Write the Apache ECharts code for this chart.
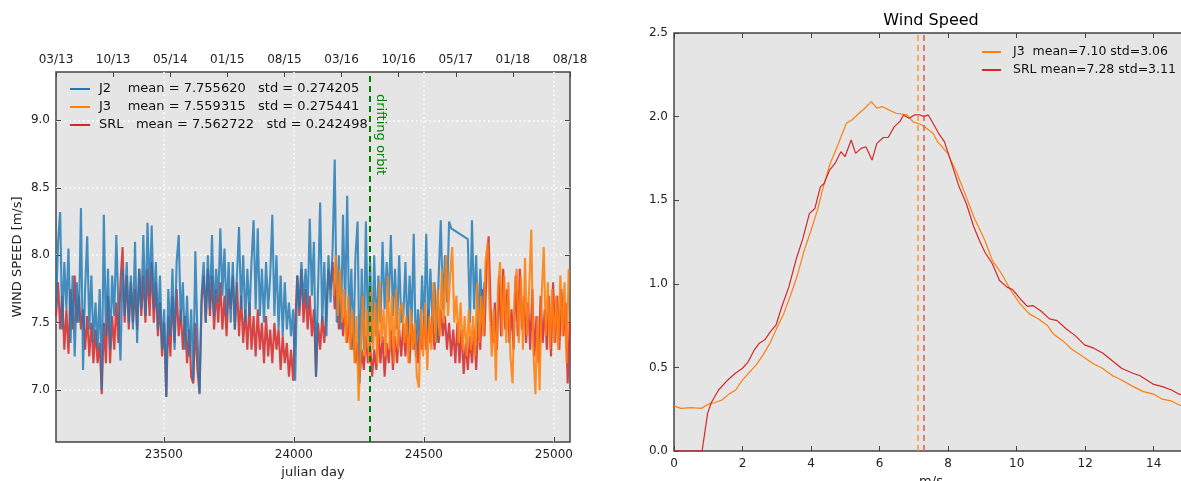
<!DOCTYPE html>
<html>
<head>
<meta charset="utf-8">
<title>Wind Speed</title>
<script src="https://cdn.jsdelivr.net/npm/echarts@6/dist/echarts.min.js"></script>
<style>
  html, body { margin: 0; padding: 0; background: #fff; }
  #main { width: 1181px; height: 481px; }
</style>
</head>
<body>
<div id="main"></div>
<script>
// ---- left panel: daily mean wind speed per mission ----
const dayStep = 8;
const j2Start = 23085;
const j3Start = 24153;
const srlStart = 23085;
const driftDay = 24290;

const j2Values = [
  7.6, 8.1, 8.32, 7.45, 7.95, 7.6, 8.05, 7.35, 7.85, 7.25,
  7.8, 7.5, 8.35, 7.15, 7.75, 8.14, 7.45, 7.85, 7.35, 7.65,
  7.3, 7.75, 7.0, 8.3, 7.4, 7.9, 7.3, 7.85, 7.55, 8.15,
  7.6, 7.22, 7.9, 7.55, 7.95, 7.5, 7.85, 7.45, 8.1, 7.35,
  7.9, 7.6, 8.15, 7.55, 8.24, 7.7, 8.22, 7.6, 7.95, 7.45,
  7.85, 7.3, 7.6, 6.95, 7.75, 7.4, 7.9, 7.3, 7.95, 8.15,
  7.5, 7.8, 7.3, 7.7, 7.25, 7.6, 7.07, 8.03, 7.4, 6.97,
  7.7, 7.95, 7.5, 8.0, 7.6, 8.15, 7.55, 7.9, 7.65, 8.2,
  7.7, 8.05, 7.55, 7.95, 7.5, 7.95, 7.45, 7.85, 8.21, 7.6,
  8.0, 7.5, 7.9, 7.55, 7.95, 8.26, 7.6, 8.2, 7.55, 7.9,
  7.5, 7.95, 7.6, 7.85, 8.3, 7.55, 8.0, 7.45, 7.85, 7.4,
  7.8, 7.45, 7.65, 7.4, 7.6, 7.07, 7.85, 7.6, 7.95, 7.65,
  7.9, 7.6, 8.27, 7.7, 8.1, 7.1, 7.75, 8.39, 7.5, 7.95,
  7.4, 8.0, 7.65, 8.05, 8.71, 7.5, 8.0, 7.45, 8.3, 7.6,
  8.44, 7.45, 7.9, 7.3, 8.0, 8.25, 7.05, 7.9, 7.3, 8.25,
  7.4, 7.95, 7.35, 8.0, 7.4, 7.85, 7.5, 8.1, 7.6, 7.95,
  7.65, 8.15, 7.55, 7.9, 7.45, 8.0, 7.5, 7.55, 7.95, 7.4,
  7.85, 7.5, 8.16, 7.25, 7.6, 7.35, 7.85, 7.45, 8.16, 7.45,
  7.9, 7.5, 7.8, 7.35, 7.85, 8.26, 7.6, 8.0, 7.65, 8.25,
  8.2, null, null, null, null, null, null, null, 8.12, 7.5,
  8.26, 7.6, 8.0, 7.45, 7.9, 7.55, 7.8
];

const j3Values = [
  7.7, 8.0, 7.55, 7.9, 7.5, 7.75, 7.35, 7.7, 7.3, 7.6,
  7.2, 7.55, 6.92, 7.3, 7.7, 7.25, 7.6, 7.2, 7.75, 7.3,
  7.65, 7.2, 7.8, 7.35, 7.6, 7.25, 7.85, 7.3, 7.7, 7.2,
  7.75, 7.3, 7.6, 7.65, 7.35, 7.55, 7.2, 7.6, 7.3, 7.5,
  7.1, 7.02, 7.6, 7.25, 7.65, 7.15, 7.55, 7.3, 7.8, 7.35,
  7.75, 7.4, 7.9, 7.5, 8.0, 7.55, 7.85, 8.06, 7.5, 7.7,
  7.35, 7.65, 7.3, 7.55, 7.25, 7.6, 7.3, 7.55, 7.25, 7.8,
  7.35, 7.7, 7.4, 7.95, 8.09, 7.6, 7.25, 7.6, 7.07, 7.75,
  7.95, 7.4, 7.85, 7.35, 7.8, 7.25, 7.05, 7.7, 7.9, 7.35,
  7.85, 7.3, 7.98, 7.4, 7.75, 8.19, 7.3, 6.97, 7.55, 7.0,
  7.7, 8.06, 7.4, 7.8, 7.3, 7.75, 7.35, 7.7, 7.3, 7.85,
  7.4, 7.8, 7.2, 7.9
];

const srlValues = [
  7.55, 7.8, 7.45, 7.7, 7.3, 7.6, 7.27, 7.75, 7.45, 7.85,
  7.5, 7.7, 7.45, 7.6, 7.3, 7.55, 7.25, 7.5, 7.2, 7.45,
  7.2, 7.35, 6.97, 7.5, 7.2, 7.7, 7.2, 7.55, 7.3, 7.65,
  7.35, 7.8, 8.06, 7.5, 7.85, 7.45, 7.8, 7.5, 7.75, 7.45,
  7.9, 7.55, 7.85, 7.5, 7.9, 7.55, 7.95, 7.5, 7.8, 7.4,
  7.65, 7.25, 7.5, 6.95, 7.55, 7.25, 7.7, 7.35, 7.75, 7.4,
  7.6, 7.3, 7.55, 7.2, 7.45, 7.1, 7.05, 7.5, 7.15, 6.98,
  7.65, 7.85, 7.5, 7.9, 7.55, 7.85, 7.45, 7.75, 7.5, 7.8,
  7.45, 7.7, 7.4, 7.75, 7.6, 7.85, 7.45, 7.8, 7.4, 7.7,
  7.35, 7.6, 7.3, 7.65, 7.3, 7.55, 7.25, 7.6, 7.3, 7.5,
  7.2, 7.55, 7.25, 7.45, 7.2, 7.5, 7.3, 7.45, 7.15, 7.4,
  7.2, 7.35, 7.1, 7.3, 7.07, 7.5, 7.85, 7.55, 7.9, 7.5,
  7.75, 7.45, 7.7, 7.4, 7.6, 7.1, 7.5, 7.3, 7.55, 7.35,
  7.6, 7.9, 7.75, 7.95, 7.6, 7.8, 7.45, 7.7, 7.4, 7.6,
  7.35, 7.55, 7.3, 7.45, 7.2, 7.35, 7.1, 7.3, 7.15, 7.4,
  7.2, 7.35, 7.1, 7.3, 7.15, 7.45, 7.2, 7.4, 7.1, 7.35,
  7.2, 7.45, 7.15, 7.4, 7.2, 7.45, 7.25, 7.5, 7.25, 7.55,
  7.2, 7.5, 7.3, 7.45, 7.2, 7.5, 7.3, 7.55, 7.3, 7.6,
  7.35, 7.55, 7.3, 7.5, 7.35, 7.6, 7.4, 7.55, 7.3, 7.5,
  7.25, 7.45, 7.2, 7.5, 7.2, 7.45, 7.12, 7.35, 7.15, 7.4,
  7.2, 7.45, 7.15, 7.5, 7.3, 7.75, 7.4, 7.9, 8.14, 7.6,
  7.35, 7.65, 7.3, 7.85, 7.4, 7.9, 7.45, 7.75, 7.35, 7.6,
  7.3, 7.85, 7.4, 7.9, 7.45, 7.7, 7.35, 7.65, 7.3, 7.75,
  7.25, 7.55, 7.2, 7.7, 7.35, 7.6, 7.3, 7.7, 7.25, 7.8,
  7.35, 7.7, 7.3, 7.75, 7.4, 7.65, 7.05, 7.5
];

const leftXTicks = [23500, 24000, 24500, 25000];
const leftYTicks = [7.0, 7.5, 8.0, 8.5, 9.0];
const dateLabels = ['03/13', '10/13', '05/14', '01/15', '08/15', '03/16', '10/16', '05/17', '01/18', '08/18'];

const j2Name = 'J2    mean = 7.755620   std = 0.274205';
const j3Name = 'J3    mean = 7.559315   std = 0.275441';
const srlName = 'SRL   mean = 7.562722   std = 0.242498';

// ---- right panel: wind speed distribution ----
const j3Speed = [0, 0.2, 0.5, 0.8, 1.0, 1.2, 1.4, 1.6, 1.8, 2.0, 2.2, 2.4, 2.6, 2.8, 3.0, 3.2, 3.4, 3.6, 3.8, 4.0,
  4.2, 4.33, 4.54, 4.76, 5.03, 5.19, 5.4, 5.57, 5.76, 5.92, 6.07, 6.27, 6.48, 6.8, 6.97, 7.24, 7.56, 7.69, 7.99, 8.26,
  8.53, 8.75, 9.07, 9.29, 9.56, 9.83, 10.1, 10.37, 10.64, 10.9, 11.07, 11.34, 11.6, 11.82, 12.0, 12.25, 12.5, 12.8, 13.06, 13.4,
  13.7, 14.0, 14.25, 14.5, 14.74, 15.0];
const j3Density = [0.27, 0.255, 0.26, 0.255, 0.28, 0.29, 0.305, 0.34, 0.365, 0.425, 0.47, 0.515, 0.575, 0.645, 0.735, 0.82, 0.93, 1.05, 1.2, 1.32,
  1.45, 1.56, 1.71, 1.82, 1.96, 1.98, 2.02, 2.05, 2.09, 2.05, 2.06, 2.04, 2.02, 2.01, 1.97, 1.95, 1.9, 1.85, 1.78, 1.66,
  1.52, 1.40, 1.26, 1.14, 1.06, 0.96, 0.88, 0.82, 0.79, 0.75, 0.70, 0.66, 0.61, 0.58, 0.555, 0.52, 0.495, 0.45, 0.425, 0.385,
  0.355, 0.34, 0.31, 0.30, 0.275, 0.265];
const srlSpeed = [0, 0.82, 0.98, 1.09, 1.3, 1.57, 1.79, 2.0, 2.17, 2.33, 2.49, 2.65, 2.82, 2.98, 3.14, 3.35, 3.57, 3.76, 3.95, 4.11,
  4.27, 4.38, 4.54, 4.7, 4.87, 4.99, 5.17, 5.3, 5.46, 5.6, 5.78, 5.92, 6.11, 6.25, 6.43, 6.59, 6.7, 6.86, 7.02, 7.18,
  7.29, 7.42, 7.56, 7.72, 7.89, 8.1, 8.32, 8.53, 8.75, 8.91, 9.07, 9.29, 9.5, 9.72, 9.88, 10.15, 10.31, 10.47, 10.69, 10.96,
  11.18, 11.45, 11.71, 11.98, 12.25, 12.52, 12.79, 13.06, 13.39, 13.6, 13.98, 14.25, 14.52, 14.74, 15.0];
const srlDensity = [0, 0, 0.225, 0.29, 0.365, 0.425, 0.465, 0.495, 0.535, 0.6, 0.645, 0.665, 0.715, 0.755, 0.86, 0.98, 1.15, 1.27, 1.42, 1.45,
  1.58, 1.6, 1.68, 1.72, 1.79, 1.76, 1.86, 1.78, 1.81, 1.82, 1.74, 1.84, 1.875, 1.875, 1.94, 1.97, 2.01, 1.99, 2.01, 2.01,
  2.0, 2.01, 1.96, 1.9, 1.85, 1.72, 1.58, 1.48, 1.34, 1.26, 1.19, 1.12, 1.02, 0.98, 0.965, 0.90, 0.865, 0.87, 0.84, 0.79,
  0.78, 0.73, 0.69, 0.635, 0.615, 0.585, 0.54, 0.495, 0.465, 0.45, 0.40, 0.385, 0.365, 0.34, 0.33];
const j3Mean = 7.10;
const srlMean = 7.28;
const rightXTicks = [0, 2, 4, 6, 8, 10, 12, 14];

const j3DistName = 'J3  mean=7.10 std=3.06';
const srlDistName = 'SRL mean=7.28 std=3.11';

const blue = '#1f77b4';
const orange = '#ff7f0e';
const red = '#d62728';
const frame = '#444444';
const labelColor = '#222222';
const font = 'DejaVu Sans';

function daySeries(start, values) {
  return values.map((v, i) => [start + i * dayStep, v]);
}
function pairs(xs, ys) {
  return xs.map((x, i) => [x, ys[i]]);
}

const tickStyle = { inside: true, length: 5, lineStyle: { color: frame, width: 1 } };
const labelStyle = { color: labelColor, fontSize: 12, fontFamily: font };
const gridLine = { show: true, lineStyle: { color: '#ffffff', width: 1.5, type: [1.5, 3] } };
const plain = v => String(v);

const chart = echarts.init(document.getElementById('main'));

chart.setOption({
  animation: false,
  backgroundColor: '#ffffff',
  textStyle: { fontFamily: font },
  grid: [
    { left: 56, top: 72, width: 514, height: 370, show: true, backgroundColor: '#e5e5e5',
      borderColor: frame, borderWidth: 1.5, outerBoundsMode: 'none' },
    { left: 674, top: 33, width: 514, height: 418, show: true, backgroundColor: '#e5e5e5',
      borderColor: frame, borderWidth: 1.5, outerBoundsMode: 'none' }
  ],
  legend: [
    { orient: 'vertical', left: 65, top: 77, itemWidth: 20, itemHeight: 2, itemGap: 4, icon: 'rect',
      data: [j2Name, j3Name, srlName],
      textStyle: { fontSize: 13, color: '#111', fontFamily: font, lineHeight: 14, padding: [0, 0, 0, 4] } },
    { orient: 'vertical', left: 977, top: 40, itemWidth: 19, itemHeight: 2, itemGap: 4, icon: 'rect',
      data: [j3DistName, srlDistName],
      textStyle: { fontSize: 12.5, color: '#111', fontFamily: font, lineHeight: 14, padding: [0, 0, 0, 7] } }
  ],
  xAxis: [
    { gridIndex: 0, type: 'value', position: 'bottom', min: 23085, max: 25062,
      axisLine: { show: false }, axisTick: Object.assign({ customValues: leftXTicks }, tickStyle),
      axisLabel: Object.assign({ customValues: leftXTicks, margin: 7, formatter: plain }, labelStyle),
      splitLine: gridLine,
      name: 'julian day', nameLocation: 'middle', nameGap: 23,
      nameTextStyle: { fontSize: 13, color: labelColor, fontFamily: font } },
    { gridIndex: 0, type: 'value', position: 'top', min: 0, max: dateLabels.length - 1, interval: 1,
      axisLine: { show: false }, axisTick: tickStyle,
      axisLabel: Object.assign({ margin: 6, showMinLabel: true, showMaxLabel: true,
        formatter: v => dateLabels[Math.round(v)] }, labelStyle),
      splitLine: { show: false } },
    { gridIndex: 1, type: 'value', position: 'bottom', min: 0, max: 15,
      axisLine: { show: false }, axisTick: Object.assign({ customValues: rightXTicks }, tickStyle),
      axisLabel: Object.assign({ customValues: rightXTicks, margin: 7, formatter: plain }, labelStyle),
      splitLine: { show: false },
      name: 'm/s', nameLocation: 'middle', nameGap: 22,
      nameTextStyle: { fontSize: 13, color: labelColor, fontFamily: font } },
    { gridIndex: 1, type: 'value', position: 'top', min: 0, max: 15,
      axisLine: { show: false }, axisTick: Object.assign({ customValues: rightXTicks }, tickStyle),
      axisLabel: { show: false }, splitLine: { show: false } }
  ],
  yAxis: [
    { gridIndex: 0, type: 'value', position: 'left', min: 6.616, max: 9.358,
      axisLine: { show: false }, axisTick: Object.assign({ customValues: leftYTicks }, tickStyle),
      axisLabel: Object.assign({ customValues: leftYTicks, margin: 6, formatter: v => v.toFixed(1) }, labelStyle),
      splitLine: gridLine,
      name: 'WIND SPEED [m/s]', nameLocation: 'middle', nameGap: 32, nameRotate: 90,
      nameTextStyle: { fontSize: 13, color: labelColor, fontFamily: font } },
    { gridIndex: 0, type: 'value', position: 'right', min: 6.616, max: 9.358,
      axisLine: { show: false }, axisTick: Object.assign({ customValues: leftYTicks }, tickStyle),
      axisLabel: { show: false }, splitLine: { show: false } },
    { gridIndex: 1, type: 'value', position: 'left', min: 0, max: 2.5, interval: 0.5,
      axisLine: { show: false }, axisTick: tickStyle,
      axisLabel: Object.assign({ margin: 6, formatter: v => v.toFixed(1) }, labelStyle),
      splitLine: { show: false } }
  ],
  series: [
    { name: srlName, type: 'line', xAxisIndex: 0, yAxisIndex: 0, data: daySeries(srlStart, srlValues),
      showSymbol: false, z: 2, color: red, lineStyle: { width: 2.1, opacity: 0.85 } },
    { name: j2Name, type: 'line', xAxisIndex: 0, yAxisIndex: 0, data: daySeries(j2Start, j2Values),
      showSymbol: false, connectNulls: true, z: 3, color: blue, lineStyle: { width: 2.1, opacity: 0.82 } },
    { name: j3Name, type: 'line', xAxisIndex: 0, yAxisIndex: 0, data: daySeries(j3Start, j3Values),
      showSymbol: false, z: 4, color: orange, lineStyle: { width: 2.1, opacity: 0.88 },
      markLine: { silent: true, symbol: ['none', 'none'], animation: false, label: { show: false },
        lineStyle: { color: '#007f00', width: 2, type: [6, 4], opacity: 1 }, data: [{ xAxis: driftDay }] } },
    { name: j3DistName, type: 'line', xAxisIndex: 2, yAxisIndex: 2, data: pairs(j3Speed, j3Density),
      showSymbol: false, color: orange, lineStyle: { width: 1.2 },
      markLine: { silent: true, symbol: ['none', 'none'], animation: false, label: { show: false },
        lineStyle: { color: '#ff9933', width: 1.5, type: [6, 4], opacity: 1 }, data: [{ xAxis: j3Mean }] } },
    { name: srlDistName, type: 'line', xAxisIndex: 2, yAxisIndex: 2, data: pairs(srlSpeed, srlDensity),
      showSymbol: false, color: red, lineStyle: { width: 1.2 },
      markLine: { silent: true, symbol: ['none', 'none'], animation: false, label: { show: false },
        lineStyle: { color: '#e05555', width: 1.5, type: [6, 4], opacity: 1 }, data: [{ xAxis: srlMean }] } }
  ]
});

// annotations: title of the right panel and the drifting orbit label
const driftX = chart.convertToPixel({ xAxisIndex: 0 }, driftDay);
const rightCenter = chart.convertToPixel({ xAxisIndex: 2 }, 7.5);
chart.setOption({
  graphic: [
    { type: 'text', x: rightCenter, y: 21, silent: true,
      style: { text: 'Wind Speed', fontSize: 16, fontFamily: font, fill: '#000', align: 'center', verticalAlign: 'middle' } },
    { type: 'text', x: driftX + 11, y: 94, rotation: -Math.PI / 2, silent: true,
      style: { text: 'drifting orbit', fontSize: 13, fontFamily: font, fill: '#007f00', align: 'left', verticalAlign: 'middle' } }
  ]
});
</script>
</body>
</html>
